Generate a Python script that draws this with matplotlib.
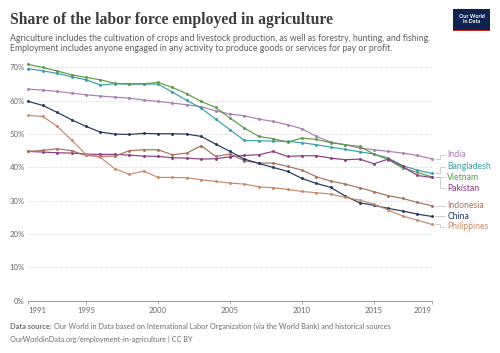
import matplotlib
matplotlib.use("Agg")
import matplotlib.pyplot as plt
from matplotlib.patches import Rectangle

plt.rcParams["font.family"] = ["Lato", "DejaVu Sans"]

# -------------------------
# Data
# -------------------------
years = list(range(1991, 2020))

india = [63.5, 63.2, 62.8, 62.3, 61.8, 61.4, 61.1, 60.8, 60.2, 59.8,
         59.3, 58.8, 58.2, 57.0, 56.0, 55.5, 54.5, 53.8, 52.8, 51.6,
         49.3, 47.6, 46.8, 45.8, 45.3, 44.8, 44.3, 43.6, 42.6]
bangladesh = [69.6, 69.0, 68.2, 67.2, 66.3, 64.7, 65.1, 65.0, 65.0, 65.0,
              62.6, 60.1, 57.8, 54.5, 51.3, 48.1, 48.0, 47.9, 47.8, 47.4,
              46.8, 46.1, 45.4, 44.7, 44.0, 42.8, 40.5, 39.2, 38.2]
vietnam = [70.9, 70.0, 68.9, 67.8, 67.0, 66.3, 65.2, 65.1, 65.1, 65.5,
           64.0, 62.1, 59.8, 58.0, 54.8, 51.8, 49.3, 48.6, 47.6, 48.8,
           48.4, 47.4, 46.8, 46.3, 44.0, 42.3, 39.8, 38.5, 37.2]
pakistan = [44.8, 44.6, 44.4, 44.3, 44.0, 43.9, 43.9, 43.7, 43.4, 43.3,
            42.9, 42.8, 42.5, 42.6, 43.2, 43.6, 43.8, 44.8, 43.3, 43.5,
            43.5, 42.8, 42.3, 42.5, 41.1, 42.5, 40.3, 37.6, 37.0]
indonesia = [44.8, 45.1, 45.6, 45.0, 43.6, 43.3, 43.4, 45.0, 45.3, 45.3,
             43.8, 44.3, 46.5, 43.3, 44.0, 42.0, 41.3, 41.3, 40.3, 39.2,
             37.2, 35.9, 35.0, 33.9, 32.7, 31.5, 30.7, 29.5, 28.5]
china = [59.8, 58.6, 56.5, 54.3, 52.3, 50.6, 50.0, 49.9, 50.2, 50.1,
         50.1, 50.0, 49.3, 47.0, 44.8, 42.5, 41.2, 40.0, 38.8, 36.7,
         35.2, 34.0, 31.4, 29.4, 28.6, 27.7, 26.9, 26.0, 25.3]
philippines = [55.6, 55.3, 52.3, 48.2, 43.9, 43.0, 39.6, 37.9, 38.9, 37.0,
               37.0, 36.9, 36.3, 35.8, 35.3, 35.0, 34.2, 33.9, 33.4, 32.8,
               32.4, 32.0, 31.0, 30.2, 29.0, 27.2, 25.4, 24.2, 22.9]

countries = ["India", "Bangladesh", "Vietnam", "Pakistan", "Indonesia", "China", "Philippines"]
series = [india, bangladesh, vietnam, pakistan, indonesia, china, philippines]
colors = ["#a77fb3", "#3a9ea8", "#5d9a45", "#8d3a86", "#a8715c", "#22365e", "#c98a6a"]
# label heights (in % units) for the right-hand labels
label_pos = [43.8, 40.2, 37.1, 33.8, 28.5, 25.4, 22.2]

yticks = [0, 10, 20, 30, 40, 50, 60, 70]
xticks = [1991, 1995, 2000, 2005, 2010, 2015, 2019]

# -------------------------
# Figure
# -------------------------
fig = plt.figure(figsize=(5.0, 3.53), dpi=100)
ax = fig.add_axes([0.0568, 0.148, 0.8064, 0.661])

for name, vals, col in zip(countries, series, colors):
    ax.plot(years, vals, color=col, lw=0.85, marker="o", ms=1.1,
            clip_on=False, zorder=3)

ax.set_xlim(1991, 2019)
ax.set_ylim(0, 70)

# grid + axes styling
ax.set_yticks(yticks)
ax.set_yticklabels([f"{v}%" for v in yticks])
ax.grid(axis="y", linestyle=(0, (1.2, 1.8)), color="#cccccc", lw=0.6)
ax.set_axisbelow(True)
for s in ["top", "right", "left"]:
    ax.spines[s].set_visible(False)
ax.spines["bottom"].set_color("#999999")
ax.spines["bottom"].set_linewidth(0.7)
ax.tick_params(axis="y", length=0, pad=2.5, labelsize=5.6, labelcolor="#666666")
ax.tick_params(axis="x", length=2.5, width=0.6, color="#999999", pad=2,
               labelsize=5.6, labelcolor="#666666")
ax.set_xticks(xticks)
ax.set_xticklabels([str(x) for x in xticks])
xl = ax.get_xticklabels()
xl[0].set_ha("left")
xl[-1].set_ha("right")

# right-hand labels with connectors
for name, vals, col, ly in zip(countries, series, colors, label_pos):
    ax.plot([2019.25, 2019.6, 2019.6, 2019.95], [vals[-1], vals[-1], ly, ly],
            color="#bbbbbb", lw=0.5, clip_on=False)
    ax.text(2020.1, ly, name, color=col, fontsize=6.2, va="center", ha="left",
            clip_on=False)

# -------------------------
# Header / footer
# -------------------------
fig.text(0.02, 0.965, "Share of the labor force employed in agriculture",
         family=["Liberation Serif", "DejaVu Serif"], fontweight="bold",
         fontsize=11.3, color="#3d3d3d", va="top", ha="left")
fig.text(0.02, 0.905,
         "Agriculture includes the cultivation of crops and livestock production, as well as forestry, hunting, and fishing.\n"
         "Employment includes anyone engaged in any activity to produce goods or services for pay or profit.",
         fontsize=6.3, color="#5e5e5e", va="top", ha="left", linespacing=1.25)

fig.patches.append(Rectangle((0.906, 0.915), 0.074, 0.0595, transform=fig.transFigure,
                             facecolor="#0f2350", edgecolor="none"))
fig.patches.append(Rectangle((0.906, 0.912), 0.074, 0.004, transform=fig.transFigure,
                             facecolor="#ce261e", edgecolor="none"))
fig.text(0.943, 0.945, "Our World\nin Data", color="white", fontsize=3.9,
         fontweight="bold", ha="center", va="center", linespacing=1.0)

# footer: bold lead-in followed by normal text
src = fig.text(0.02, 0.074, "Data source:", fontsize=5.3, fontweight="bold",
               color="#6e6e6e", va="center", ha="left")
fig.canvas.draw()
bb = src.get_window_extent().transformed(fig.transFigure.inverted())
fig.text(bb.x1 + 0.004, 0.074,
         "Our World in Data based on International Labor Organization (via the World Bank) and historical sources",
         fontsize=5.3, color="#6e6e6e", va="center", ha="left")
fig.text(0.02, 0.039, "OurWorldinData.org/employment-in-agriculture | CC BY",
         fontsize=5.3, color="#6e6e6e", va="center", ha="left")

fig.savefig("out.png", dpi=100, facecolor="white")
